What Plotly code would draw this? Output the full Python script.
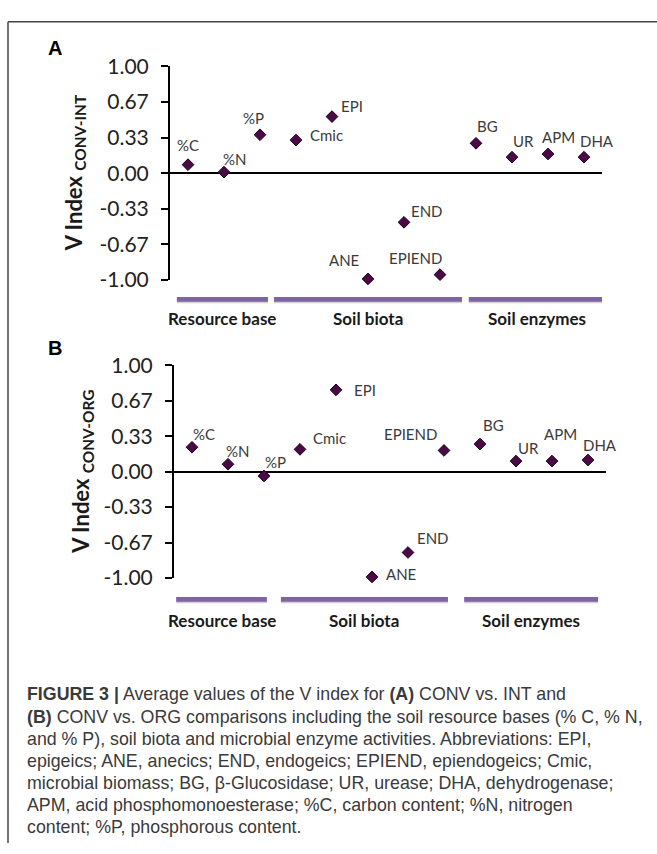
import plotly.graph_objects as go

W, H = 657, 854

# ---------------- data ----------------
categories = ["%C", "%N", "%P", "Cmic", "EPI", "ANE", "END", "EPIEND", "BG", "UR", "APM", "DHA"]
v_conv_int = [0.08, 0.01, 0.36, 0.31, 0.53, -0.99, -0.46, -0.95, 0.28, 0.15, 0.18, 0.15]
v_conv_org = [0.23, 0.07, -0.04, 0.21, 0.77, -0.99, -0.76, 0.20, 0.26, 0.10, 0.10, 0.11]
tick_vals = [1.0, 2/3, 1/3, 0.0, -1/3, -2/3, -1.0]
tick_text = ["1.00", "0.67", "0.33", "0.00", "-0.33", "-0.67", "-1.00"]
group_names = ["Resource base", "Soil biota", "Soil enzymes"]

caption_lines = [
    "<b>FIGURE 3 |</b> Average values of the V index for <b>(A)</b> CONV vs. INT and",
    "<b>(B)</b> CONV vs. ORG comparisons including the soil resource bases (% C, % N,",
    "and % P), soil biota and microbial enzyme activities. Abbreviations: EPI,",
    "epigeics; ANE, anecics; END, endogeics; EPIEND, epiendogeics; Cmic,",
    "microbial biomass; BG, \u03b2-Glucosidase; UR, urease; DHA, dehydrogenase;",
    "APM, acid phosphomonoesterase; %C, carbon content; %N, nitrogen",
    "content; %P, phosphorous content.",
]

# ---------------- layout helpers (pixels) ----------------
def px_x(x):
    return x / W

def px_y(y):
    return 1 - y / H

# label offsets (dx, dy) in px, per point, for each panel
offs_a = [(0, 20), (10, 13), (-7, 17), (30, 5), (20, 11), (-24, 19), (23, 11),
          (-25, 17), (11, 17), (11, 16), (10, 17), (13, 16)]
offs_b = [(12, 13), (9, 13), (11, 14), (29, 11), (29, 0), (29, 3), (25, 14),
          (-34, 16), (13, 19), (12, 13), (8, 27), (12, 15)]

panels = [
    dict(vals=v_conv_int, offs=offs_a, xa="x", ya="y", letter="A", letter_y=35,
         xdom=(170, 602), ytop=54, ybot=274, sub="CONV-INT", title_x=75,
         bar_y=294, lab_y=314, spans=[(0.69, 3.22), (3.39, 8.61), (8.8, 12.6)]),
    dict(vals=v_conv_org, offs=offs_b, xa="x2", ya="y2", letter="B", letter_y=344,
         xdom=(174, 606), ytop=362, ybot=581, sub="CONV-ORG", title_x=82,
         bar_y=603, lab_y=625, spans=[(0.56, 3.08), (3.47, 8.11), (8.56, 12.28)]),
]

fig = go.Figure()
xpos = list(range(1, len(categories) + 1))
annotations = []
shapes = []
label_font = dict(family="Lato", size=15, color="#3a3a3a")

for i, p in enumerate(panels):
    fig.add_trace(go.Scatter(
        x=xpos, y=p["vals"], mode="markers", xaxis=p["xa"], yaxis=p["ya"],
        marker=dict(symbol="diamond", size=9, color="#4B0A46",
                    line=dict(color="#1a001a", width=1)),
        cliponaxis=False, hoverinfo="skip", showlegend=False,
    ))
    for k, (c, v) in enumerate(zip(categories, p["vals"])):
        dx, dy = p["offs"][k]
        annotations.append(dict(
            x=xpos[k], y=v, xref=p["xa"], yref=p["ya"], text=c, showarrow=False,
            xshift=dx, yshift=dy, font=label_font, xanchor="center", yanchor="middle"))
    # group bars and labels
    for (x0, x1), name in zip(p["spans"], group_names):
        shapes.append(dict(type="rect", xref=p["xa"], yref="paper",
                           x0=x0, x1=x1, y0=px_y(p["bar_y"] + 4), y1=px_y(p["bar_y"] + 1),
                           fillcolor="rgba(120,120,120,0.35)", line=dict(width=0), layer="below"))
        shapes.append(dict(type="rect", xref=p["xa"], yref="paper",
                           x0=x0, x1=x1, y0=px_y(p["bar_y"] + 2.5), y1=px_y(p["bar_y"] - 2.5),
                           fillcolor="#8064A2", line=dict(width=0)))
        annotations.append(dict(
            x=(x0 + x1) / 2, y=px_y(p["lab_y"]), xref=p["xa"], yref="paper",
            text="<b>" + name + "</b>", showarrow=False, xanchor="center", yanchor="middle",
            font=dict(family="Lato", size=17, color="#1a1a1a")))
    # panel letter
    annotations.append(dict(x=px_x(55), y=px_y(p["letter_y"]), xref="paper", yref="paper",
                            text="<b>" + p["letter"] + "</b>", showarrow=False,
                            xanchor="center", yanchor="middle",
                            font=dict(family="Liberation Sans", size=20, color="black")))
    # y title
    annotations.append(dict(x=px_x(p["title_x"]), y=px_y((p["ytop"] + p["ybot"]) / 2),
                            xref="paper", yref="paper", textangle=-90,
                            text="<b>V Index <sub>" + p["sub"] + "</sub></b>", showarrow=False,
                            xanchor="center", yanchor="middle",
                            font=dict(family="Lato", size=22, color="#1a1a1a")))
    axis_suffix = "" if i == 0 else "2"
    fig.update_layout(**{
        "xaxis" + axis_suffix: dict(domain=[px_x(p["xdom"][0]), px_x(p["xdom"][1])],
                                    range=[0.5, 12.5], showgrid=False, zeroline=False,
                                    showline=False, showticklabels=False, ticks="",
                                    anchor=p["ya"]),
        "yaxis" + axis_suffix: dict(domain=[px_y(p["ybot"]), px_y(p["ytop"])],
                                    range=[-1, 1], showgrid=False, zeroline=True,
                                    zerolinecolor="black", zerolinewidth=2,
                                    showline=True, linecolor="black", linewidth=2,
                                    ticks="outside", ticklen=7, tickwidth=2, tickcolor="black",
                                    tickvals=tick_vals, ticktext=tick_text,
                                    ticklabelstandoff=8,
                                    tickfont=dict(family="Lato", size=21, color="#222222"),
                                    anchor=p["xa"]),
    })

# caption
cap_y0, cap_dy = 701, 22.8
for j, line in enumerate(caption_lines):
    annotations.append(dict(x=px_x(25), y=px_y(cap_y0 + j * cap_dy), xref="paper", yref="paper",
                            text=line, showarrow=False, xanchor="left", yanchor="middle",
                            font=dict(family="Liberation Sans", size=17.8, color="#3a3a3a")))

# frame (top and left)
shapes.append(dict(type="line", xref="paper", yref="paper", x0=px_x(8), x1=1.0,
                   y0=px_y(8), y1=px_y(8), line=dict(color="#444444", width=1.5)))
shapes.append(dict(type="line", xref="paper", yref="paper", x0=px_x(8), x1=px_x(8),
                   y0=px_y(8), y1=0.0, line=dict(color="#444444", width=1.5)))

fig.update_layout(width=W, height=H, margin=dict(l=0, r=0, t=0, b=0),
                  paper_bgcolor="white", plot_bgcolor="white",
                  annotations=annotations, shapes=shapes, showlegend=False)

fig.write_html("out.html", config={"displayModeBar": False},
               post_script="document.body.style.margin='0';document.body.style.overflow='hidden';")
